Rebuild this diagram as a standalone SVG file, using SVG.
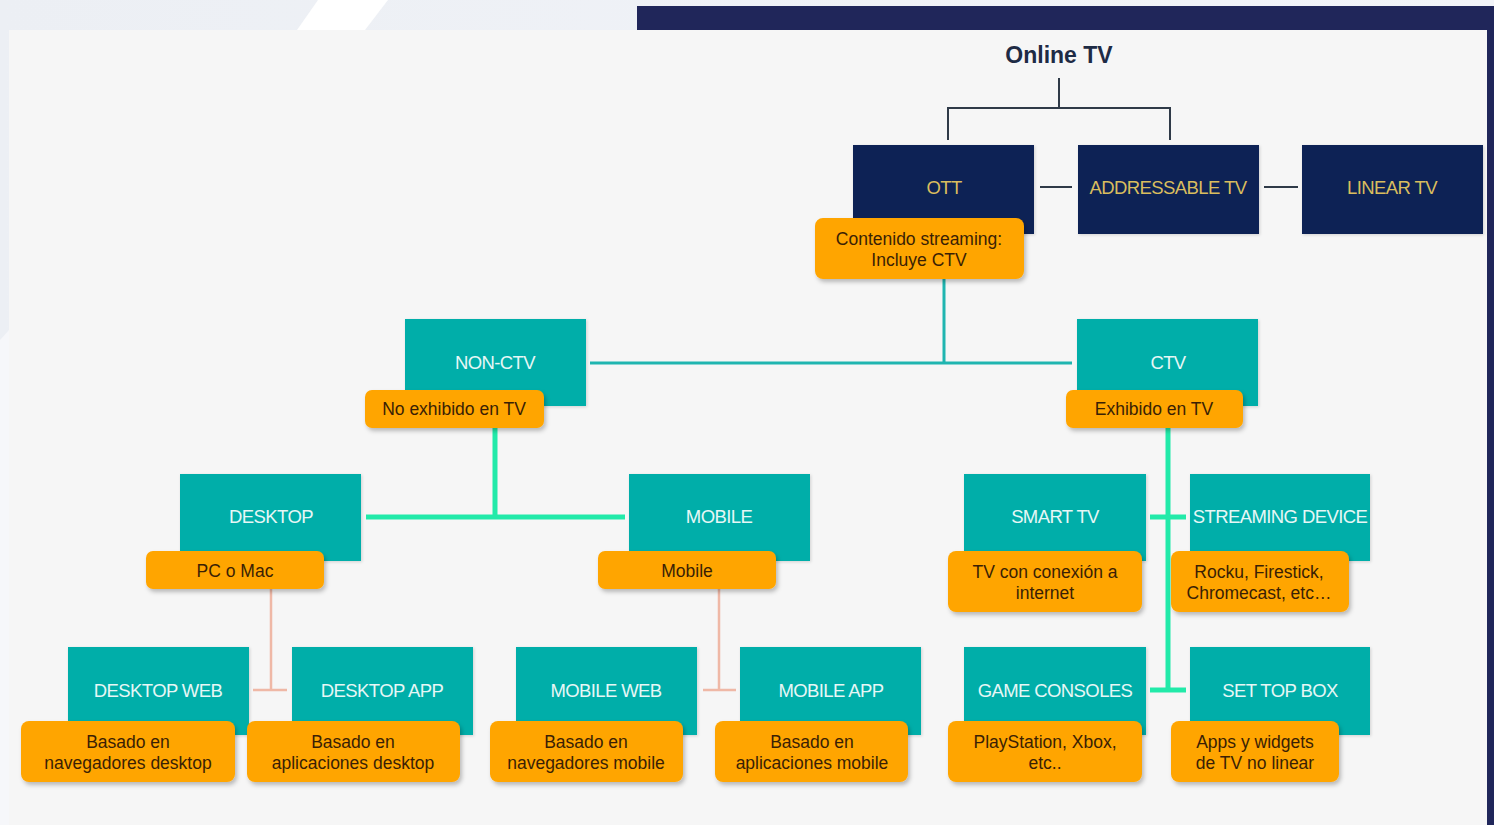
<svg xmlns="http://www.w3.org/2000/svg" width="1494" height="825" viewBox="0 0 1494 825">
<style>
.navy{fill:#0c2455}
.teal{fill:#03aea9}
.orange{fill:#ffa502}
.tn{font-family:"Liberation Sans",Arial,sans-serif;font-size:18.5px;fill:#d9bd5e;text-anchor:middle;letter-spacing:-0.6px}
.tt{font-family:"Liberation Sans",Arial,sans-serif;font-size:18.5px;fill:#e6f7f6;text-anchor:middle;letter-spacing:-0.6px}
.to{font-family:"Liberation Sans",Arial,sans-serif;font-size:17.5px;fill:#3a1f05;text-anchor:middle}
.dk{stroke:#2f3a48;stroke-width:2;fill:none}
.tl{stroke:#1fb5b0;stroke-width:3;fill:none}
.mint{stroke:#22eaa9;stroke-width:5;fill:none}
.salmon{stroke:#efb8a6;stroke-width:2.5;fill:none}
</style>
<defs>
<linearGradient id="bg" x1="0" y1="0" x2="1" y2="0">
<stop offset="0" stop-color="#eceff4"/>
<stop offset="1" stop-color="#f2f4f9"/>
</linearGradient>
<filter id="sh" x="-10%" y="-20%" width="125%" height="150%">
<feDropShadow dx="2" dy="3" stdDeviation="2" flood-color="#000" flood-opacity="0.25"/>
</filter>
<filter id="sh2" x="-10%" y="-20%" width="125%" height="150%">
<feDropShadow dx="1" dy="1" stdDeviation="1.5" flood-color="#000" flood-opacity="0.15"/>
</filter>
</defs>
<rect x="0" y="0" width="1494" height="825" fill="url(#bg)"/>
<polygon points="318,0 388,0 365,30 297,30" fill="#ffffff"/>
<polygon points="0,340 9,330 9,825 0,825" fill="#f6f7fa"/>
<rect x="637" y="6" width="857" height="819" fill="#20265a"/>
<rect x="9" y="30" width="1478" height="795" fill="#f6f6f6"/>

<text x="1059" y="63" font-family="Liberation Sans,Arial,sans-serif" font-size="23" font-weight="bold" fill="#1e2b45" text-anchor="middle">Online TV</text>

<g id="connectors">
<path class="dk" d="M1059,78 V108 M948,140 V108 H1170 V140"/>
<path class="dk" d="M1040,187 H1072 M1264,187 H1298"/>
<path class="tl" d="M944,279 V363 M590,363 H1072"/>
<path class="mint" d="M495,428 V517 M366,517 H625"/>
<path class="mint" d="M1168,428 V690 M1150,517 H1186 M1150,690 H1186" stroke-width="4"/>
<path class="salmon" d="M271,589 V690 M253,690 H287"/>
<path class="salmon" d="M719,589 V690 M703,690 H736"/>
</g>

<g id="ott"><rect class="navy" x="853" y="145" width="181" height="89" filter="url(#sh2)"/><text class="tn" x="944" y="194">OTT</text></g>
<g id="addressable"><rect class="navy" x="1078" y="145" width="181" height="89" filter="url(#sh2)"/><text class="tn" x="1168" y="194">ADDRESSABLE TV</text></g>
<g id="linear"><rect class="navy" x="1302" y="145" width="181" height="89" filter="url(#sh2)"/><text class="tn" x="1392" y="194">LINEAR TV</text></g>
<g id="ott-note"><rect class="orange" x="815" y="218" width="209" height="61" rx="8" filter="url(#sh)"/><text class="to" x="919" y="245">Contenido streaming:</text><text class="to" x="919" y="266">Incluye CTV</text></g>

<g id="nonctv"><rect class="teal" x="405" y="319" width="181" height="87" filter="url(#sh2)"/><text class="tt" x="495" y="369">NON-CTV</text></g>
<g id="nonctv-note"><rect class="orange" x="365" y="390" width="179" height="38" rx="7" filter="url(#sh)"/><text class="to" x="454" y="415">No exhibido en TV</text></g>
<g id="ctv"><rect class="teal" x="1077" y="319" width="181" height="87" filter="url(#sh2)"/><text class="tt" x="1168" y="369">CTV</text></g>
<g id="ctv-note"><rect class="orange" x="1066" y="390" width="177" height="38" rx="7" filter="url(#sh)"/><text class="to" x="1154" y="415">Exhibido en TV</text></g>

<g id="desktop"><rect class="teal" x="180" y="474" width="181" height="87" filter="url(#sh2)"/><text class="tt" x="271" y="523">DESKTOP</text></g>
<g id="desktop-note"><rect class="orange" x="146" y="551" width="178" height="38" rx="7" filter="url(#sh)"/><text class="to" x="235" y="577">PC o Mac</text></g>
<g id="mobile"><rect class="teal" x="629" y="474" width="181" height="87" filter="url(#sh2)"/><text class="tt" x="719" y="523">MOBILE</text></g>
<g id="mobile-note"><rect class="orange" x="598" y="551" width="178" height="38" rx="7" filter="url(#sh)"/><text class="to" x="687" y="577">Mobile</text></g>

<g id="smarttv"><rect class="teal" x="964" y="474" width="182" height="87" filter="url(#sh2)"/><text class="tt" x="1055" y="523">SMART TV</text></g>
<g id="smarttv-note"><rect class="orange" x="948" y="551" width="194" height="61" rx="8" filter="url(#sh)"/><text class="to" x="1045" y="578">TV con conexión a</text><text class="to" x="1045" y="599">internet</text></g>
<g id="streaming"><rect class="teal" x="1190" y="474" width="180" height="87" filter="url(#sh2)"/><text class="tt" x="1280" y="523">STREAMING DEVICE</text></g>
<g id="streaming-note"><rect class="orange" x="1171" y="551" width="178" height="61" rx="8" filter="url(#sh)"/><text class="to" x="1259" y="578">Rocku, Firestick,</text><text class="to" x="1259" y="599">Chromecast, etc…</text></g>

<g id="desktopweb"><rect class="teal" x="68" y="647" width="181" height="88" filter="url(#sh2)"/><text class="tt" x="158" y="697">DESKTOP WEB</text></g>
<g id="desktopweb-note"><rect class="orange" x="21" y="721" width="214" height="61" rx="8" filter="url(#sh)"/><text class="to" x="128" y="748">Basado en</text><text class="to" x="128" y="769">navegadores desktop</text></g>
<g id="desktopapp"><rect class="teal" x="292" y="647" width="181" height="88" filter="url(#sh2)"/><text class="tt" x="382" y="697">DESKTOP APP</text></g>
<g id="desktopapp-note"><rect class="orange" x="247" y="721" width="213" height="61" rx="8" filter="url(#sh)"/><text class="to" x="353" y="748">Basado en</text><text class="to" x="353" y="769">aplicaciones desktop</text></g>
<g id="mobileweb"><rect class="teal" x="516" y="647" width="181" height="88" filter="url(#sh2)"/><text class="tt" x="606" y="697">MOBILE WEB</text></g>
<g id="mobileweb-note"><rect class="orange" x="490" y="721" width="193" height="61" rx="8" filter="url(#sh)"/><text class="to" x="586" y="748">Basado en</text><text class="to" x="586" y="769">navegadores mobile</text></g>
<g id="mobileapp"><rect class="teal" x="740" y="647" width="181" height="88" filter="url(#sh2)"/><text class="tt" x="831" y="697">MOBILE APP</text></g>
<g id="mobileapp-note"><rect class="orange" x="715" y="721" width="193" height="61" rx="8" filter="url(#sh)"/><text class="to" x="812" y="748">Basado en</text><text class="to" x="812" y="769">aplicaciones mobile</text></g>

<g id="consoles"><rect class="teal" x="964" y="647" width="182" height="88" filter="url(#sh2)"/><text class="tt" x="1055" y="697">GAME CONSOLES</text></g>
<g id="consoles-note"><rect class="orange" x="948" y="721" width="194" height="61" rx="8" filter="url(#sh)"/><text class="to" x="1045" y="748">PlayStation, Xbox,</text><text class="to" x="1045" y="769">etc..</text></g>
<g id="settop"><rect class="teal" x="1190" y="647" width="180" height="88" filter="url(#sh2)"/><text class="tt" x="1280" y="697">SET TOP BOX</text></g>
<g id="settop-note"><rect class="orange" x="1171" y="721" width="168" height="61" rx="8" filter="url(#sh)"/><text class="to" x="1255" y="748">Apps y widgets</text><text class="to" x="1255" y="769">de TV no linear</text></g>
</svg>
